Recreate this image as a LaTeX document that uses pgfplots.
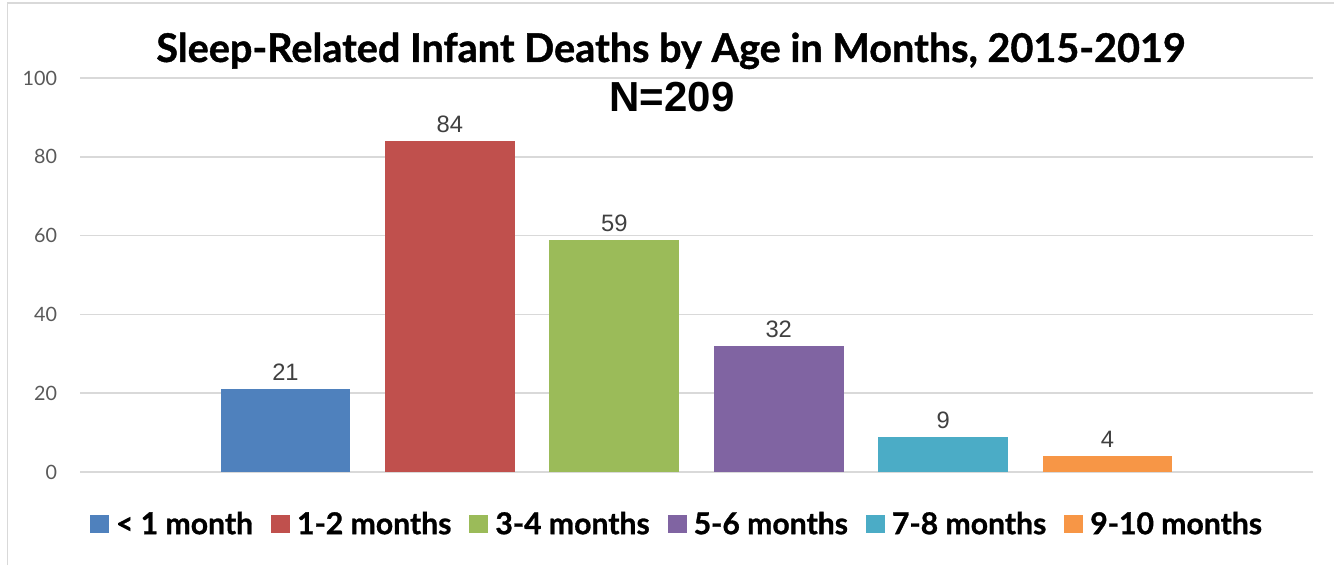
\documentclass[border=0pt]{standalone}
\usepackage{fontspec}
\setmainfont{Lato}
\newfontfamily\heavyfont[BoldFeatures={FakeBold=1}]{Lato}
\newfontfamily\arialfont{Liberation Sans}
\usepackage{pgfplots}
\pgfplotsset{compat=1.18}
\definecolor{c1}{HTML}{4F81BD}
\definecolor{c2}{HTML}{C0504D}
\definecolor{c3}{HTML}{9BBB59}
\definecolor{c4}{HTML}{8064A2}
\definecolor{c5}{HTML}{4BACC6}
\definecolor{c6}{HTML}{F79646}
\definecolor{gridgray}{HTML}{D9D9D9}
\definecolor{tickgray}{HTML}{595959}
\definecolor{labelgray}{HTML}{404040}
\begin{document}
\begin{tikzpicture}
\path[use as bounding box] (0pt,0pt) rectangle (1000.5pt,423.75pt);
\draw[color=gridgray, line width=1.2pt] (5.625pt,0pt) -- (5.625pt,421.5pt) -- (1000.5pt,421.5pt);
\begin{axis}[
  at={(60pt,69.75pt)}, anchor=south west,
  width=924.75pt, height=295.5pt, scale only axis,
  xmin=-1.25, xmax=6.25, ymin=0, ymax=100,
  ytick={0,20,...,100}, xtick=\empty,
  axis line style={draw=none},
  ymajorgrids, grid style={gridgray, line width=1.1pt},
  major tick length=0pt,
  ybar, bar width=0.79,
  every axis plot/.append style={bar shift=0pt, draw=none},
  nodes near coords,
  every node near coord/.append style={font=\arialfont\fontsize{17.8}{20}\selectfont, color=labelgray, anchor=south, inner sep=0pt, yshift=6pt},
  yticklabel style={font=\fontsize{14.8}{17}\selectfont, color=tickgray, inner xsep=0pt, xshift=-17pt},
  /pgf/number format/assume math mode=true,
  legend columns=6,
  legend style={at={(0.4834,-0.132)}, anchor=center, draw=none, fill=none, inner sep=0pt,
    font=\heavyfont\bfseries\fontsize{22.6}{27}\selectfont,
    nodes={inner xsep=0pt, inner ysep=0pt, text depth=0.15em},
    /tikz/column sep=5.25pt,
    /tikz/every even column/.append style={column sep=13.5pt}},
  legend image code/.code={\fill[#1] (0pt,-7pt) rectangle (14.25pt,7pt);},
]
\addplot[fill=c1] coordinates {(0,21)};
\addplot[fill=c2] coordinates {(1,84)};
\addplot[fill=c3] coordinates {(2,59)};
\addplot[fill=c4] coordinates {(3,32)};
\addplot[fill=c5] coordinates {(4,9)};
\addplot[fill=c6] coordinates {(5,4)};
\legend{{< 1 month},{1-2 months},{3-4 months},{5-6 months},{7-8 months},{9-10 months}}
\end{axis}
\node[anchor=base, font=\heavyfont\bfseries\fontsize{29.7}{34}\selectfont] at (503.25pt,377.25pt) {Sleep-Related Infant Deaths by Age in Months, 2015-2019};
\node[anchor=base, font=\arialfont\bfseries\fontsize{31.5}{36}\selectfont] at (504pt,339.75pt) {N=209};
\end{tikzpicture}
\end{document}
